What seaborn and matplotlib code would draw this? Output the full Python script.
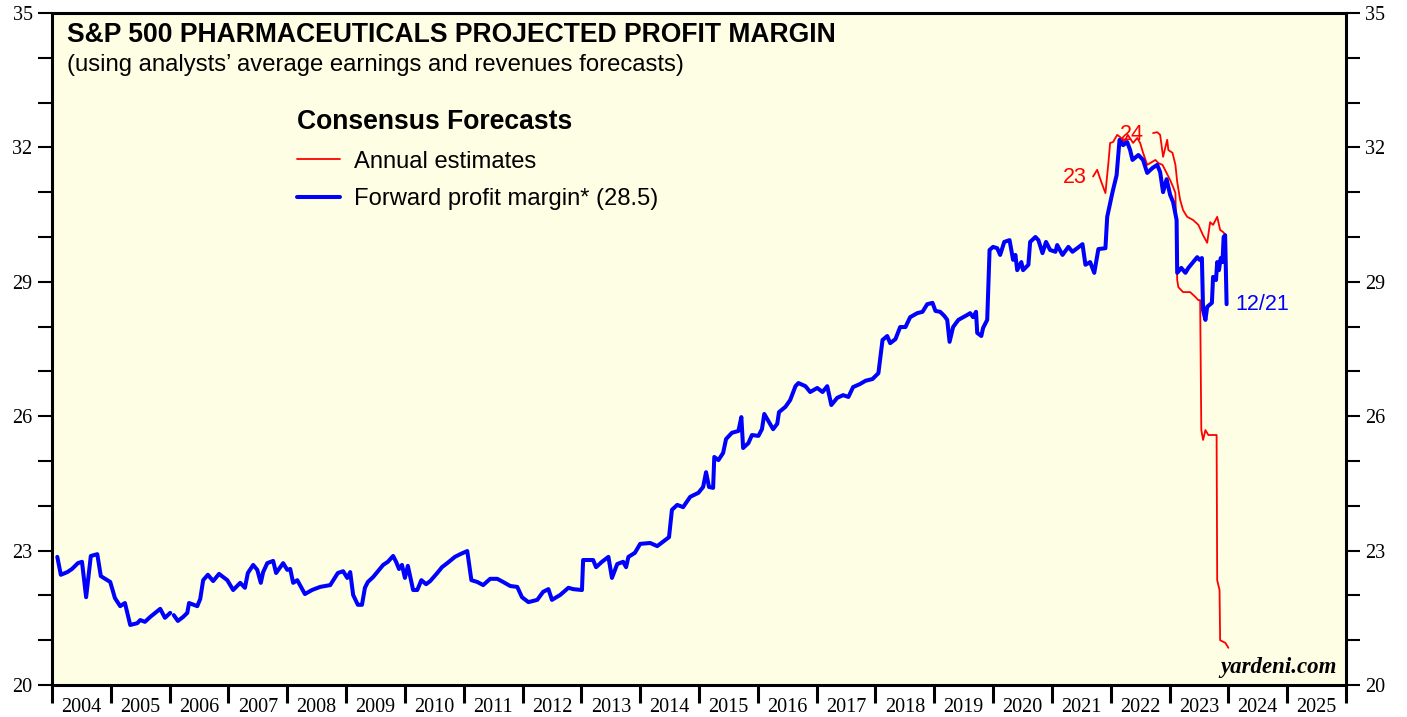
import matplotlib
matplotlib.use("Agg")
import matplotlib.pyplot as plt
import seaborn as sns
import pandas as pd
import numpy as np
from matplotlib.lines import Line2D

sns.set_style("ticks")
plt.rcParams["font.family"] = ["Liberation Serif", "DejaVu Serif"]
plt.rcParams["text.color"] = "black"
plt.rcParams["xtick.color"] = "black"
plt.rcParams["ytick.color"] = "black"
SANS = ["Liberation Sans", "DejaVu Sans"]

# forward profit margin (weekly-ish readings, decimal years) - small gap early 2006
fwd_year_a = [2004.09, 2004.15, 2004.26, 2004.34, 2004.44, 2004.51, 2004.58, 2004.66, 2004.77, 2004.83,
              2004.99, 2005.07, 2005.16, 2005.24, 2005.33, 2005.45, 2005.50, 2005.58, 2005.67, 2005.84,
              2005.92, 2006.01]
fwd_val_a = [22.86, 22.46, 22.52, 22.59, 22.72, 22.75, 21.96, 22.88, 22.92, 22.43,
             22.30, 21.94, 21.76, 21.83, 21.34, 21.38, 21.45, 21.41, 21.52, 21.70,
             21.50, 21.61]

fwd_year_b = [2006.07, 2006.14, 2006.23, 2006.30, 2006.33, 2006.47, 2006.52, 2006.57, 2006.65, 2006.74,
              2006.84, 2006.98, 2007.08, 2007.20, 2007.28, 2007.33, 2007.42, 2007.49, 2007.55, 2007.59,
              2007.66, 2007.76, 2007.81, 2007.93, 2008.00, 2008.05, 2008.10, 2008.17, 2008.30, 2008.42,
              2008.56, 2008.73, 2008.86, 2008.95, 2009.02, 2009.07, 2009.12, 2009.20, 2009.27, 2009.32,
              2009.37, 2009.46, 2009.53, 2009.63, 2009.71, 2009.80, 2009.85, 2009.90, 2009.95, 2010.00,
              2010.05, 2010.14, 2010.21, 2010.28, 2010.36, 2010.43, 2010.55, 2010.63, 2010.72, 2010.85,
              2010.94, 2011.06, 2011.13, 2011.23, 2011.33, 2011.45, 2011.57, 2011.67, 2011.79, 2011.91,
              2011.99, 2012.10, 2012.25, 2012.35, 2012.44, 2012.50, 2012.64, 2012.78, 2012.86, 2013.01,
              2013.03, 2013.20, 2013.25, 2013.35, 2013.46, 2013.52, 2013.61, 2013.71, 2013.76, 2013.80,
              2013.91, 2014.00, 2014.17, 2014.29, 2014.43, 2014.49, 2014.54, 2014.63, 2014.73, 2014.85,
              2014.99, 2015.07, 2015.12, 2015.17, 2015.24, 2015.26, 2015.33, 2015.41, 2015.46, 2015.56,
              2015.67, 2015.72, 2015.75, 2015.84, 2015.90, 2016.01, 2016.07, 2016.11, 2016.18, 2016.26,
              2016.33, 2016.36, 2016.47, 2016.55, 2016.64, 2016.69, 2016.81, 2016.89, 2017.01, 2017.10,
              2017.18, 2017.25, 2017.35, 2017.45, 2017.54, 2017.62, 2017.74, 2017.83, 2017.95, 2018.05,
              2018.12, 2018.20, 2018.25, 2018.34, 2018.42, 2018.51, 2018.59, 2018.71, 2018.80, 2018.88,
              2018.97, 2019.02, 2019.10, 2019.17, 2019.22, 2019.26, 2019.32, 2019.41, 2019.56, 2019.61,
              2019.66, 2019.71, 2019.73, 2019.80, 2019.83, 2019.90, 2019.94, 2020.00, 2020.07, 2020.12,
              2020.19, 2020.28, 2020.34, 2020.38, 2020.41, 2020.48, 2020.51, 2020.60, 2020.63, 2020.72,
              2020.77, 2020.84, 2020.90, 2020.97, 2021.06, 2021.09, 2021.18, 2021.28, 2021.35, 2021.43,
              2021.52, 2021.57, 2021.65, 2021.72, 2021.79, 2021.91, 2021.94, 2022.03, 2022.10, 2022.15,
              2022.21, 2022.28, 2022.33, 2022.37, 2022.47, 2022.55, 2022.62, 2022.71, 2022.79, 2022.84,
              2022.89, 2022.95, 2023.01, 2023.06, 2023.12, 2023.13, 2023.20, 2023.27, 2023.32, 2023.40,
              2023.47, 2023.51, 2023.55, 2023.57, 2023.61, 2023.64, 2023.72, 2023.74, 2023.79, 2023.81,
              2023.84, 2023.87, 2023.90, 2023.92, 2023.945, 2023.97]
fwd_val_b = [21.56, 21.43, 21.52, 21.61, 21.83, 21.76, 21.92, 22.34, 22.46, 22.32,
             22.48, 22.34, 22.12, 22.28, 22.17, 22.50, 22.68, 22.57, 22.28, 22.52,
             22.72, 22.77, 22.50, 22.72, 22.57, 22.59, 22.28, 22.34, 22.03, 22.12,
             22.19, 22.23, 22.50, 22.54, 22.39, 22.52, 22.01, 21.79, 21.79, 22.17,
             22.30, 22.41, 22.52, 22.68, 22.75, 22.88, 22.75, 22.59, 22.68, 22.39,
             22.66, 22.12, 22.12, 22.34, 22.25, 22.32, 22.50, 22.63, 22.72, 22.86,
             22.92, 22.99, 22.34, 22.30, 22.23, 22.37, 22.37, 22.30, 22.21, 22.19,
             21.96, 21.85, 21.90, 22.08, 22.14, 21.90, 22.01, 22.17, 22.14, 22.12,
             22.79, 22.79, 22.63, 22.75, 22.86, 22.39, 22.70, 22.75, 22.63, 22.86,
             22.95, 23.15, 23.17, 23.10, 23.24, 23.30, 23.91, 24.02, 23.97, 24.20,
             24.29, 24.42, 24.75, 24.42, 24.40, 25.09, 25.02, 25.18, 25.49, 25.63,
             25.67, 25.98, 25.29, 25.40, 25.58, 25.56, 25.71, 26.05, 25.89, 25.71,
             25.83, 26.09, 26.21, 26.36, 26.67, 26.74, 26.67, 26.54, 26.63, 26.54,
             26.67, 26.25, 26.41, 26.47, 26.43, 26.65, 26.72, 26.79, 26.83, 26.96,
             27.70, 27.79, 27.63, 27.72, 27.99, 27.99, 28.21, 28.30, 28.33, 28.50,
             28.53, 28.35, 28.33, 28.24, 28.15, 27.66, 27.99, 28.15, 28.26, 28.30,
             28.21, 28.33, 27.86, 27.79, 27.97, 28.15, 29.71, 29.78, 29.75, 29.60,
             29.89, 29.93, 29.49, 29.60, 29.26, 29.44, 29.26, 29.38, 29.89, 30.00,
             29.93, 29.64, 29.89, 29.71, 29.67, 29.82, 29.60, 29.78, 29.67, 29.75,
             29.84, 29.38, 29.44, 29.20, 29.73, 29.75, 30.45, 31.00, 31.38, 32.17,
             32.05, 32.12, 31.94, 31.72, 31.83, 31.72, 31.43, 31.54, 31.61, 31.45,
             31.00, 31.29, 30.94, 30.78, 30.38, 29.20, 29.31, 29.20, 29.31, 29.44,
             29.55, 29.49, 29.53, 28.37, 28.15, 28.44, 28.53, 29.11, 29.04, 29.44,
             29.26, 29.53, 29.44, 30.00, 30.04, 28.50]

# annual consensus estimates for 2023 and 2024
est23_year = [2021.70, 2021.77, 2021.81, 2021.87, 2021.91, 2021.96, 2021.99, 2022.04, 2022.11, 2022.16,
              2022.23, 2022.29, 2022.38, 2022.45, 2022.50, 2022.55, 2022.62, 2022.67, 2022.76, 2022.81,
              2022.88, 2022.95, 2023.01, 2023.06, 2023.10, 2023.13, 2023.15, 2023.23, 2023.35, 2023.44,
              2023.49, 2023.52, 2023.54, 2023.57, 2023.61, 2023.66, 2023.80, 2023.81, 2023.85, 2023.86,
              2023.95, 2024.00]
est23_val = [31.35, 31.50, 31.34, 31.12, 30.98, 31.65, 32.10, 32.12, 32.28, 32.23,
             32.12, 32.28, 32.10, 32.21, 32.10, 31.88, 31.61, 31.65, 31.72, 31.65,
             31.61, 31.43, 31.27, 31.12, 30.98, 29.04, 28.88, 28.77, 28.77, 28.66,
             28.59, 28.59, 25.69, 25.47, 25.69, 25.58, 25.58, 22.34, 22.12, 21.00,
             20.94, 20.83]

est24_year = [2022.72, 2022.79, 2022.84, 2022.89, 2022.96, 2022.98, 2023.05, 2023.10, 2023.13, 2023.18,
              2023.23, 2023.30, 2023.40, 2023.49, 2023.57, 2023.64, 2023.69, 2023.74, 2023.81, 2023.86,
              2023.91, 2023.96]
est24_val = [32.32, 32.34, 32.28, 31.79, 32.17, 31.94, 31.88, 31.61, 31.23, 30.83,
             30.60, 30.45, 30.38, 30.27, 30.04, 29.87, 30.33, 30.27, 30.45, 30.16,
             30.11, 30.04]

year_labels = [str(y) for y in range(2004, 2026)]
y_major = [20, 23, 26, 29, 32, 35]

fwd = pd.concat([
    pd.DataFrame({"year": fwd_year_a, "margin": fwd_val_a, "seg": "a"}),
    pd.DataFrame({"year": fwd_year_b, "margin": fwd_val_b, "seg": "b"}),
])
est = pd.concat([
    pd.DataFrame({"year": est23_year, "margin": est23_val, "series": "2023"}),
    pd.DataFrame({"year": est24_year, "margin": est24_val, "series": "2024"}),
])

W, H = 1407, 717
fig = plt.figure(figsize=(W / 100, H / 100), dpi=100)
ax = fig.add_axes([52 / W, 32 / H, 1294 / W, 672 / H])
ax.set_facecolor("#fefee4")

sns.lineplot(data=est, x="year", y="margin", units="series", estimator=None, sort=False,
             color="#ff0000", lw=1.3, ax=ax, legend=False)
sns.lineplot(data=fwd, x="year", y="margin", units="seg", estimator=None, sort=False,
             color="#0000ff", lw=2.9, ax=ax, legend=False)

ax.set_xlim(2004, 2026)
ax.set_ylim(20, 35)
ax.set_xlabel("")
ax.set_ylabel("")

ax.set_yticks(y_major)
ax.set_yticks(range(20, 36), minor=True)
ax.tick_params(axis="y", which="both", direction="out", length=10, width=1.5,
               left=True, right=True, labelleft=True, labelright=True, labelsize=14.5, pad=4)
ax.set_xticks(range(2004, 2027))
ax.set_xticklabels([])
ax.set_xticks(np.arange(2004.5, 2026, 1), minor=True)
ax.set_xticklabels(year_labels, minor=True)
ax.tick_params(axis="x", which="major", direction="out", length=13, width=2.2)
ax.tick_params(axis="x", which="minor", length=0, pad=9, labelsize=14.5)

for s in ax.spines.values():
    s.set_linewidth(2.2)
    s.set_color("black")

fig.text(67 / W, 1 - 35 / H, "S&P 500 PHARMACEUTICALS PROJECTED PROFIT MARGIN",
         fontsize=19.1, fontweight="bold", family=SANS, va="center", ha="left")
fig.text(67 / W, 1 - 65 / H, "(using analysts\u2019 average earnings and revenues forecasts)",
         fontsize=17.2, family=SANS, va="center", ha="left")

handles = [Line2D([], [], color="#ff0000", lw=1.3), Line2D([], [], color="#0000ff", lw=2.9)]
ax.legend(handles, ["Annual estimates", "Forward profit margin* (28.5)"],
          title="Consensus Forecasts", loc="upper left",
          bbox_to_anchor=(297 / W, 1 - 109 / H), bbox_transform=fig.transFigure,
          frameon=False, prop={"family": SANS, "size": 17.1},
          title_fontproperties={"family": SANS, "size": 19.1, "weight": "bold"},
          alignment="left", handlelength=1.8, handletextpad=0.62,
          labelspacing=0.66, borderpad=0, borderaxespad=0)

ax.text(2021.585, 31.32, "23", color="#ff0000", fontsize=15.5, family=SANS, ha="right", va="center")
ax.text(2022.16, 32.28, "24", color="#ff0000", fontsize=15.5, family=SANS, ha="left", va="center")
ax.text(2024.12, 28.50, "12/21", color="#0000ff", fontsize=15.5, family=SANS, ha="left", va="center")
ax.text(2025.84, 20.38, "yardeni.com", fontsize=16.5, fontweight="bold", fontstyle="italic",
        ha="right", va="center")

fig.savefig("out.png", dpi=100)
